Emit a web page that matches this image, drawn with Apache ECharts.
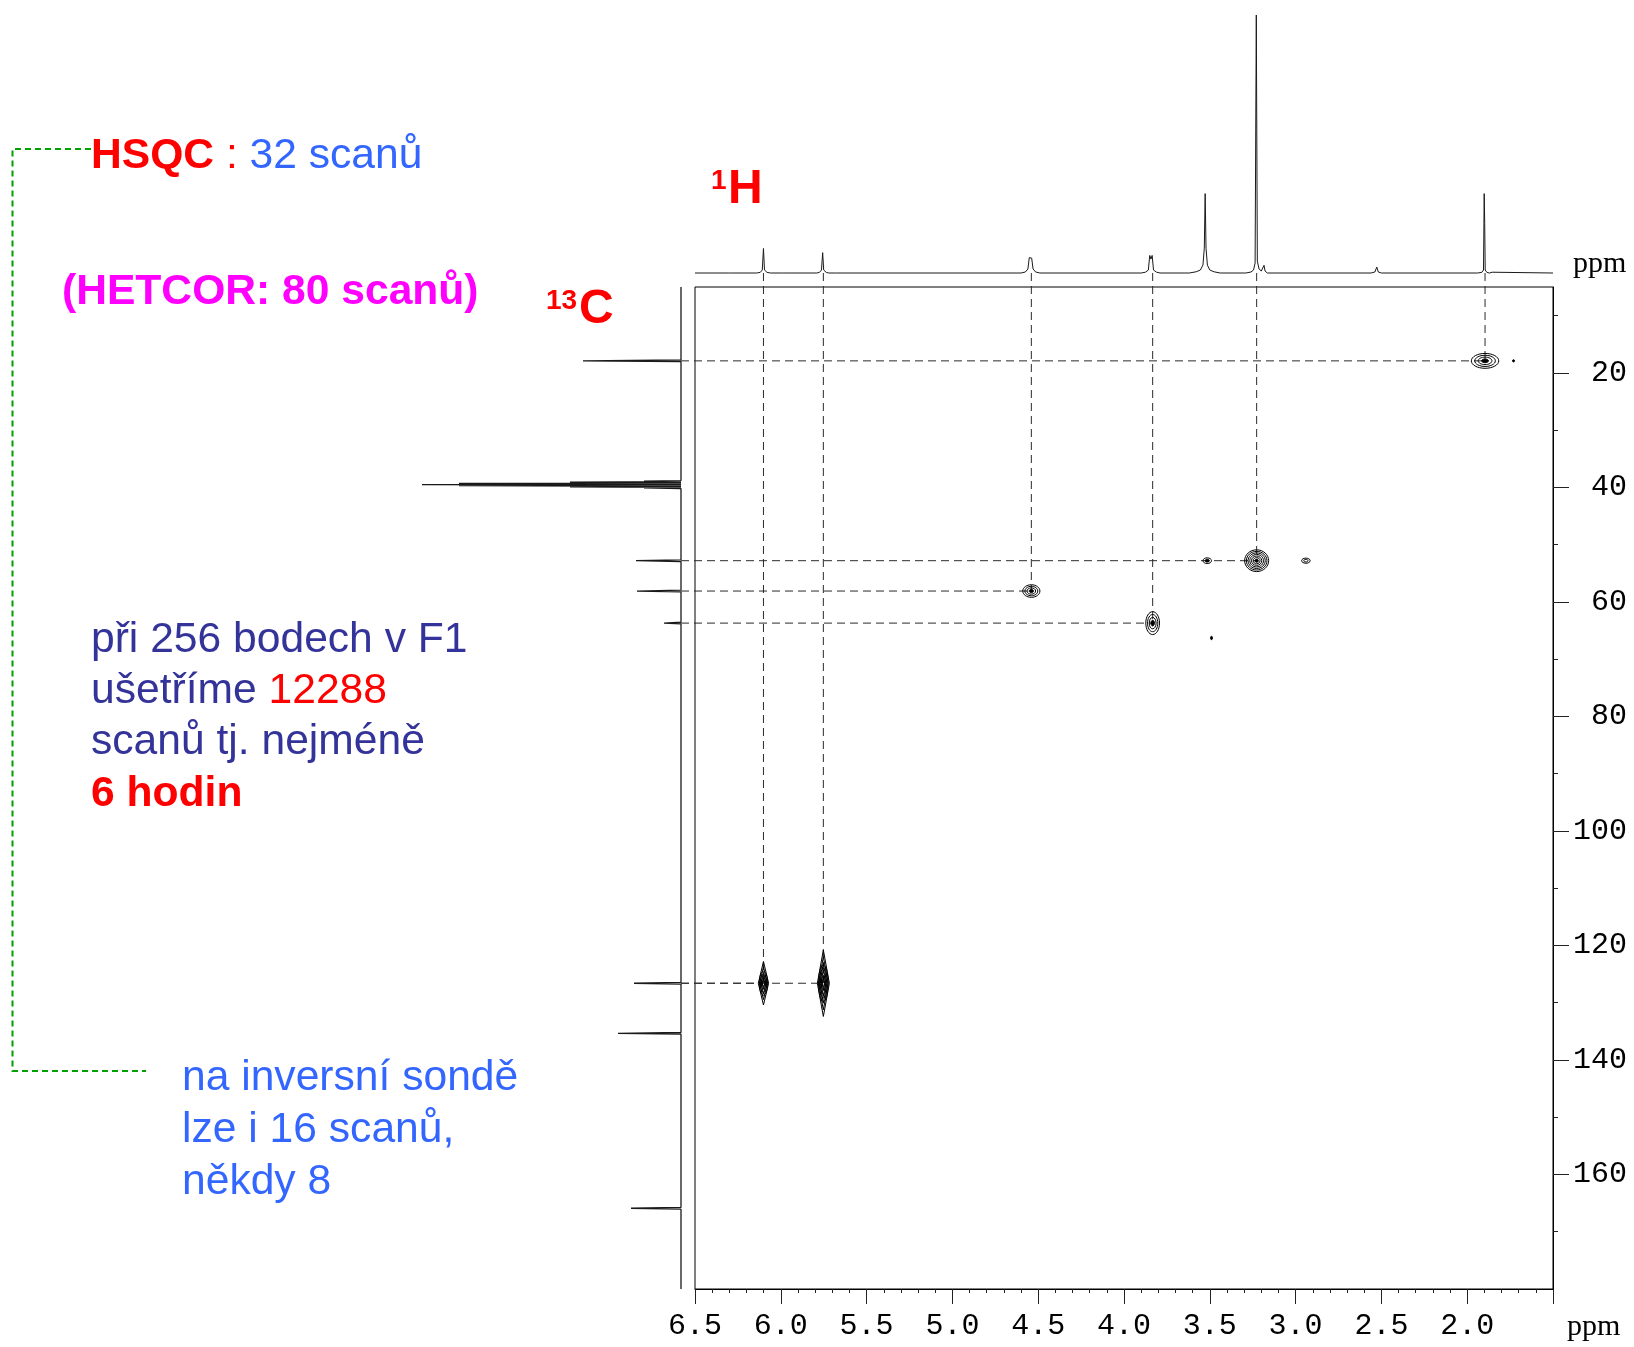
<!DOCTYPE html>
<html>
<head>
<meta charset="utf-8">
<script src="https://cdn.jsdelivr.net/npm/echarts@6/dist/echarts.min.js"></script>
<style>
  html, body { margin: 0; padding: 0; background: #ffffff; }
  #chart { width: 1634px; height: 1347px; }
</style>
</head>
<body>
<div id="chart"></div>
<script>
// 1H projection (top trace): [ppm, intensity]
const protonTrace = [
  [6.50, 0], [6.30, 0], [6.29, 0.6], [6.28, 0],
  [6.14, 0], [6.12, 0.6], [6.108, 3], [6.101, 24.7], [6.095, 3], [6.08, 0.6], [6.06, 0],
  [5.99, 0], [5.985, 1], [5.975, 0],
  [5.79, 0], [5.775, 0.6], [5.763, 3], [5.756, 20.5], [5.750, 3], [5.735, 0.6], [5.72, 0],
  [5.69, 0], [5.685, 0.8], [5.675, 0],
  [4.60, 0], [4.575, 1], [4.56, 4], [4.552, 15.5], [4.545, 16.5], [4.538, 15], [4.53, 4], [4.515, 1], [4.49, 0],
  [3.90, 0], [3.875, 0.8], [3.858, 3], [3.850, 17.7], [3.843, 14], [3.836, 17.7], [3.828, 3], [3.81, 0.8], [3.79, 0],
  [3.62, 0], [3.58, 1.2], [3.555, 3], [3.54, 8], [3.532, 25], [3.527, 80], [3.522, 25], [3.514, 8], [3.50, 3], [3.475, 1.2], [3.44, 0],
  [3.29, 0], [3.26, 1], [3.245, 3], [3.236, 10], [3.229, 260], [3.223, 12], [3.213, 4], [3.20, 2], [3.19, 3], [3.184, 7.7], [3.178, 2], [3.165, 0],
  [2.56, 0], [2.538, 1], [2.527, 6], [2.518, 1], [2.50, 0],
  [1.94, 0], [1.915, 0.6], [1.905, 3], [1.901, 80], [1.898, 50], [1.895, 3], [1.885, 0.6], [1.87, 0],
  [1.86, 0], [1.855, 0.8], [1.85, 0],
  [1.50, 0]
];

// 13C projection (left trace): [intensity, ppm]
const carbonTrace = [
  [0, 5], [0, 17.75], [98, 17.9], [0, 18.05],
  [0, 38.8], [37, 38.9], [0, 39.0], [111, 39.1], [0, 39.2], [222, 39.3], [0, 39.4], [259, 39.5],
  [0, 39.6], [222, 39.7], [0, 39.8], [111, 39.9], [0, 40.0], [37, 40.1], [0, 40.2],
  [0, 52.65], [45, 52.8], [0, 52.95],
  [0, 57.95], [44, 58.1], [0, 58.25],
  [0, 63.55], [17, 63.7], [0, 63.85],
  [0, 126.45], [47, 126.6], [0, 126.75],
  [0, 135.2], [63, 135.35], [0, 135.5],
  [0, 165.75], [50, 165.9], [0, 166.05],
  [0, 180]
];

// HSQC cross peaks:
// [1H ppm, 13C ppm, half-width 1H (ppm), half-height 13C (ppm), contour levels, filled core, lozenge]
const crossPeaks = [
  [1.896, 17.9, 0.08, 1.3, 4, 1, 0],
  [3.227, 52.8, 0.07, 1.9, 7, 1, 0],
  [3.515, 52.8, 0.025, 0.5, 2, 1, 0],
  [2.94, 52.8, 0.025, 0.45, 2, 0, 0],
  [4.54, 58.1, 0.05, 1.1, 4, 1, 0],
  [3.833, 63.7, 0.04, 2.0, 4, 1, 0],
  [6.101, 126.6, 0.03, 3.8, 4, 0, 1],
  [5.752, 126.6, 0.035, 5.8, 5, 0, 1],
  [1.73, 17.9, 0.006, 0.2, 1, 1, 0],
  [3.49, 66.3, 0.004, 0.3, 1, 1, 0]
];

// assigned correlations joined to both projections: [1H ppm, 13C ppm]
const correlations = [
  [6.101, 126.6], [5.752, 126.6], [4.54, 58.1], [3.833, 63.7], [3.227, 52.8], [1.896, 17.9]
];

const carbonMajorTicks = [20, 40, 60, 80, 100, 120, 140, 160];
const carbonMinorTicks = [10, 30, 50, 70, 90, 110, 130, 150, 170];

// layout
const PLOT = { left: 695, top: 287, width: 858, height: 1002 };
const PROTON_PANEL = { top: 13, height: 260 };
const CARBON_PANEL = { left: 410, width: 271 };
const GAP_TOP = PLOT.top - (PROTON_PANEL.top + PROTON_PANEL.height);
const GAP_LEFT = PLOT.left - (CARBON_PANEL.left + CARBON_PANEL.width);

const TICK_FONT = '"Liberation Mono", "DejaVu Sans Mono", monospace';
const SERIF = '"Liberation Serif", "DejaVu Serif", serif';
const SANS = '"Liberation Sans", Arial, sans-serif';
const TEXT_SIZE = 42.6;

function renderGuide(params, api) {
  const cs = params.coordSys;
  const p = api.coord([api.value(0), api.value(1)]);
  const style = { stroke: '#2a2a2a', lineWidth: 1, lineDash: [8, 5], fill: null };
  return {
    type: 'group',
    children: [
      { type: 'line', shape: { x1: p[0], y1: cs.y - GAP_TOP, x2: p[0], y2: p[1] }, style: style },
      { type: 'line', shape: { x1: cs.x - GAP_LEFT, y1: p[1], x2: p[0], y2: p[1] }, style: style }
    ]
  };
}

function renderPeak(params, api) {
  const c = api.coord([api.value(0), api.value(1)]);
  const s = api.size([api.value(2), api.value(3)]);
  const sx = Math.abs(s[0]), sy = Math.abs(s[1]);
  const n = api.value(4), core = api.value(5), lozenge = api.value(6);
  const kids = [];
  for (let k = n; k >= 1; k--) {
    const rx = Math.max(sx * k / n, 1), ry = Math.max(sy * k / n, 1);
    const st = { stroke: '#000', lineWidth: 1, fill: (core && k === 1) ? '#000' : 'none' };
    if (lozenge) {
      kids.push({ type: 'polygon', shape: { points: [[c[0], c[1] - ry], [c[0] + rx, c[1]], [c[0], c[1] + ry], [c[0] - rx, c[1]]] }, style: st });
      kids.push({ type: 'ellipse', shape: { cx: c[0], cy: c[1], rx: rx * 0.8, ry: ry * 0.55 }, style: { stroke: '#000', lineWidth: 1, fill: 'none' } });
    } else {
      kids.push({ type: 'ellipse', shape: { cx: c[0], cy: c[1], rx: rx, ry: ry }, style: st });
    }
  }
  return { type: 'group', children: kids };
}

const chart = echarts.init(document.getElementById('chart'), null, { renderer: 'canvas' });

const hidden = { show: false };

chart.setOption({
  animation: false,
  backgroundColor: '#ffffff',
  grid: [
    { left: PLOT.left, top: PLOT.top, width: PLOT.width, height: PLOT.height, show: true, borderColor: '#000', borderWidth: 1, outerBoundsMode: 'none' },
    { left: PLOT.left, top: PROTON_PANEL.top, width: PLOT.width, height: PROTON_PANEL.height, outerBoundsMode: 'none' },
    { left: CARBON_PANEL.left, top: PLOT.top, width: CARBON_PANEL.width, height: PLOT.height, outerBoundsMode: 'none' }
  ],
  xAxis: [
    {
      type: 'value', gridIndex: 0, min: 1.5, max: 6.5, interval: 0.5, inverse: true, position: 'bottom',
      axisLine: { show: true, onZero: false, lineStyle: { color: '#000', width: 1 } },
      axisTick: { show: true, length: 15, lineStyle: { color: '#222', width: 1 } },
      minorTick: { show: true, splitNumber: 5, length: 4, lineStyle: { color: '#222', width: 1 } },
      axisLabel: {
        showMinLabel: false, margin: 22, color: '#000', fontFamily: TICK_FONT, fontSize: 30,
        formatter: function (v) { return v === 1.5 ? '' : v.toFixed(1); }
      },
      splitLine: hidden
    },
    { type: 'value', gridIndex: 1, min: 1.5, max: 6.5, inverse: true, show: false, splitLine: hidden },
    { type: 'value', gridIndex: 2, min: 0, max: 271, inverse: true, show: false, splitLine: hidden }
  ],
  yAxis: [
    {
      type: 'value', gridIndex: 0, min: 5, max: 180, inverse: true, position: 'right',
      axisLine: { show: true, onZero: false, lineStyle: { color: '#000', width: 1 } },
      axisTick: { show: true, length: 16, customValues: carbonMajorTicks, lineStyle: { color: '#222', width: 1 } },
      axisLabel: {
        customValues: carbonMajorTicks, align: 'right', margin: 74,
        color: '#000', fontFamily: TICK_FONT, fontSize: 30
      },
      splitLine: hidden
    },
    {
      type: 'value', gridIndex: 0, min: 5, max: 180, inverse: true, position: 'right',
      axisLine: { show: false },
      axisTick: { show: true, length: 5, customValues: carbonMinorTicks, lineStyle: { color: '#222', width: 1 } },
      axisLabel: { show: false, customValues: carbonMinorTicks },
      splitLine: hidden
    },
    { type: 'value', gridIndex: 1, min: 0, max: 262, show: false, splitLine: hidden },
    { type: 'value', gridIndex: 2, min: 5, max: 180, inverse: true, show: false, splitLine: hidden }
  ],
  series: [
    {
      name: '1H', type: 'line', xAxisIndex: 1, yAxisIndex: 2, data: protonTrace,
      showSymbol: false, symbol: 'none', silent: true, clip: false,
      lineStyle: { color: '#1a1a1a', width: 1 }
    },
    {
      name: '13C', type: 'line', xAxisIndex: 2, yAxisIndex: 3, data: carbonTrace,
      showSymbol: false, symbol: 'none', silent: true, clip: false,
      lineStyle: { color: '#1a1a1a', width: 1.3 }
    },
    {
      name: 'guides', type: 'custom', xAxisIndex: 0, yAxisIndex: 0, data: correlations,
      renderItem: renderGuide, silent: true, clip: false, z: 2
    },
    {
      name: 'HSQC', type: 'custom', xAxisIndex: 0, yAxisIndex: 0, data: crossPeaks,
      renderItem: renderPeak, silent: true, z: 3
    }
  ],
  graphic: [
    {
      type: 'polyline', silent: true,
      shape: { points: [[91, 149], [12.5, 149], [12.5, 1071], [146, 1071]] },
      style: { stroke: '#00a000', lineWidth: 2, lineDash: [6, 4], fill: null }
    },
    {
      type: 'text', x: 91, y: 156, silent: true,
      style: {
        text: '{r|HSQC}{c| : }{b|32 scanů}', verticalAlign: 'middle',
        rich: {
          r: { fill: '#ff0000', fontSize: TEXT_SIZE, fontWeight: 'bold', fontFamily: SANS },
          c: { fill: '#ff0000', fontSize: TEXT_SIZE, fontFamily: SANS },
          b: { fill: '#3366ff', fontSize: TEXT_SIZE, fontFamily: SANS }
        }
      }
    },
    {
      type: 'text', x: 62, y: 292, silent: true,
      style: { text: '(HETCOR: 80 scanů)', verticalAlign: 'middle', fill: '#ff00ff', fontSize: TEXT_SIZE, fontWeight: 'bold', fontFamily: SANS }
    },
    {
      type: 'text', x: 711, y: 181, silent: true,
      style: { text: '1', verticalAlign: 'middle', fill: '#ff0000', fontSize: 28, fontWeight: 'bold', fontFamily: SANS }
    },
    {
      type: 'text', x: 728, y: 190, silent: true,
      style: { text: 'H', verticalAlign: 'middle', fill: '#ff0000', fontSize: 48, fontWeight: 'bold', fontFamily: SANS }
    },
    {
      type: 'text', x: 546, y: 301, silent: true,
      style: { text: '13', verticalAlign: 'middle', fill: '#ff0000', fontSize: 28, fontWeight: 'bold', fontFamily: SANS }
    },
    {
      type: 'text', x: 579, y: 310, silent: true,
      style: { text: 'C', verticalAlign: 'middle', fill: '#ff0000', fontSize: 48, fontWeight: 'bold', fontFamily: SANS }
    },
    {
      type: 'text', x: 91, y: 640, silent: true,
      style: { text: 'při 256 bodech v F1', verticalAlign: 'middle', fill: '#333399', fontSize: TEXT_SIZE, fontFamily: SANS }
    },
    {
      type: 'text', x: 91, y: 691, silent: true,
      style: {
        text: '{a|ušetříme }{b|12288}', verticalAlign: 'middle',
        rich: {
          a: { fill: '#333399', fontSize: TEXT_SIZE, fontFamily: SANS },
          b: { fill: '#ff0000', fontSize: TEXT_SIZE, fontFamily: SANS }
        }
      }
    },
    {
      type: 'text', x: 91, y: 742, silent: true,
      style: { text: 'scanů tj. nejméně', verticalAlign: 'middle', fill: '#333399', fontSize: TEXT_SIZE, fontFamily: SANS }
    },
    {
      type: 'text', x: 91, y: 794, silent: true,
      style: { text: '6 hodin', verticalAlign: 'middle', fill: '#ff0000', fontSize: TEXT_SIZE, fontWeight: 'bold', fontFamily: SANS }
    },
    {
      type: 'text', x: 182, y: 1078, silent: true,
      style: { text: 'na inversní sondě', verticalAlign: 'middle', fill: '#3366ff', fontSize: TEXT_SIZE, fontFamily: SANS }
    },
    {
      type: 'text', x: 182, y: 1130, silent: true,
      style: { text: 'lze i 16 scanů,', verticalAlign: 'middle', fill: '#3366ff', fontSize: TEXT_SIZE, fontFamily: SANS }
    },
    {
      type: 'text', x: 182, y: 1182, silent: true,
      style: { text: 'někdy 8', verticalAlign: 'middle', fill: '#3366ff', fontSize: TEXT_SIZE, fontFamily: SANS }
    },
    {
      type: 'text', x: 1573, y: 264, silent: true,
      style: { text: 'ppm', verticalAlign: 'middle', fill: '#000', fontSize: 30, fontFamily: SERIF }
    },
    {
      type: 'text', x: 1567, y: 1327, silent: true,
      style: { text: 'ppm', verticalAlign: 'middle', fill: '#000', fontSize: 30, fontFamily: SERIF }
    }
  ]
});
</script>
</body>
</html>
